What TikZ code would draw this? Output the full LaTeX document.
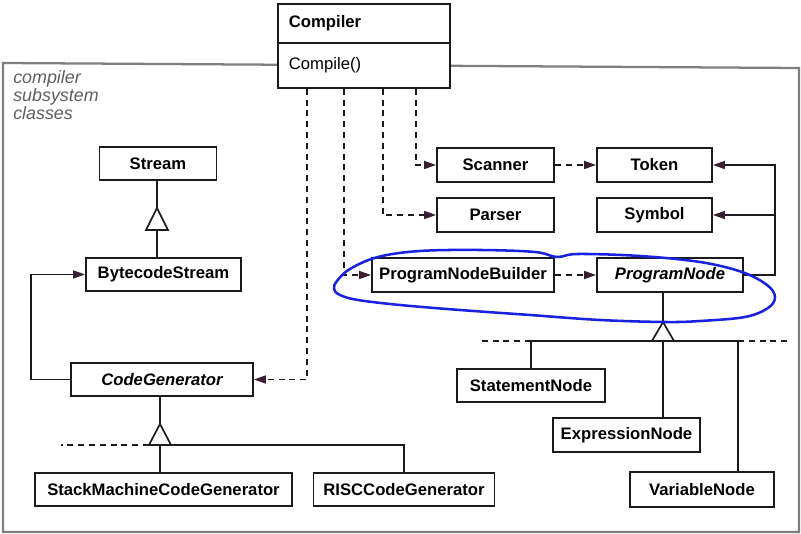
\documentclass[tikz,border=0pt]{standalone}
\usepackage{fontspec}
\setmainfont{Liberation Sans}
\usetikzlibrary{arrows.meta,calc}

\definecolor{inkline}{HTML}{1C1A1C}
\definecolor{tipcol}{HTML}{3A1E34}
\definecolor{framegray}{HTML}{7E7E7C}
\definecolor{labelgray}{HTML}{5E5E5E}
\definecolor{penblue}{HTML}{1A22E0}
\newcommand\umlfont{\fontsize{12.5pt}{14pt}\selectfont}

\tikzset{
  classbox/.style={draw=inkline, fill=white, line width=1.35pt, inner sep=0pt,
    font=\umlfont\bfseries},
  bw/.style={minimum width=#1*0.75pt},
  bh/.style={minimum height=#1*0.75pt},
  abstractcls/.style={font=\umlfont\bfseries\itshape},
  headtip/.style={-{Triangle[length=9pt,width=6pt,color=tipcol]}},
  dep/.style={draw=inkline, line width=1.25pt, dash pattern=on 4.5pt off 3.6pt, headtip},
  assoc/.style={draw=inkline, line width=1.25pt, line join=miter, headtip},
  inh/.style={draw=inkline, line width=1.25pt, line join=miter},
  dashline/.style={draw=inkline, line width=1.25pt, dash pattern=on 4.5pt off 3.6pt},
  gen/.style={draw=inkline, line width=1.25pt, fill=white, line join=miter},
}

\begin{document}
\begin{tikzpicture}[x=0.75pt,y=-0.75pt]
\fill[white] (0,0) rectangle (801,534);
\useasboundingbox (0,0) rectangle (801,534);

% subsystem frame
\draw[framegray, line width=1.7pt, line join=miter] (3,63) -- (799,68) -- (799,532) -- (3,532) -- cycle;
\node[anchor=north west, align=left, inner sep=0pt, text=labelgray,
      font=\fontsize{13.4pt}{12.4pt}\selectfont\itshape] (sublabel) at (13,70)
      {compiler\\subsystem\\classes};

% facade class
\node[classbox, bw=172, bh=39, anchor=north west, text width=112.5pt, align=left] (cname) at (277,3) {Compiler};
\node[classbox, bw=172, bh=45, anchor=north west, text width=112.5pt, align=left, font=\umlfont] (cops) at (277,42) {Compile()};

% subsystem classes
\node[classbox, bw=117, bh=33] (stream) at (158,163.5) {Stream};
\node[classbox, bw=155, bh=33] (bcs) at (163.5,274.5) {BytecodeStream};
\node[classbox, bw=182, bh=33, abstractcls] (codegen) at (162,379.5) {CodeGenerator};
\node[classbox, bw=257, bh=33] (smcg) at (163.5,489.5) {StackMachineCodeGenerator};
\node[classbox, bw=181, bh=33] (riscg) at (404,489.5) {RISCCodeGenerator};
\node[classbox, bw=117, bh=34] (scanner) at (495.5,165) {Scanner};
\node[classbox, bw=115, bh=34] (token) at (654.5,165) {Token};
\node[classbox, bw=117, bh=34] (parser) at (495.5,215) {Parser};
\node[classbox, bw=115, bh=34] (symbol) at (654.5,215) {Symbol};
\node[classbox, bw=182, bh=34] (pnb) at (463,275) {ProgramNodeBuilder};
\node[classbox, bw=146, bh=34, abstractcls] (pnode) at (670,275) {ProgramNode};
\node[classbox, bw=148, bh=33] (stmt) at (531,385.5) {StatementNode};
\node[classbox, bw=147, bh=34] (expr) at (626.5,435) {ExpressionNode};
\node[classbox, bw=144, bh=35] (var) at (702,489.5) {VariableNode};

% Stream hierarchy
\coordinate (sapex) at (157,208);
\draw[inh] (stream.south -| sapex) -- (bcs.north -| sapex);
\draw[gen] (sapex) -- ++(-11,22) -- ++(22,0) -- cycle;

% CodeGenerator hierarchy
\coordinate (capex) at (160,424);
\coordinate (cbar) at (160,445);
\coordinate (cdash) at (61,445);
\draw[inh] (codegen.south -| capex) -- (capex);
\draw[inh] (cbar) -- (smcg.north -| cbar);
\draw[inh] ($(cbar)+(11,0)$) -| (riscg.north);
\draw[dashline] ($(cbar)+(-11,0)$) -- (cdash);
\draw[gen] (capex) -- ++(-11,21) -- ++(22,0) -- cycle;

% ProgramNode hierarchy
\coordinate (papex) at (663,322);
\coordinate (pbar) at (663,341);
\coordinate (vtop) at (738,341);
\coordinate (pdashl) at (482,341);
\coordinate (pdashr) at (787,341);
\draw[inh] (pnode.south -| papex) -- (papex);
\draw[inh] (pbar) -- (expr.north -| pbar);
\draw[inh] ($(pbar)+(-11,0)$) -| (stmt.north);
\draw[inh] ($(pbar)+(11,0)$) -- (vtop) -- (var.north -| vtop);
\draw[dashline] (stmt.north |- pbar) -- (pdashl);
\draw[dashline] (vtop) -- (pdashr);
\draw[gen] (papex) -- ++(-11,19) -- ++(22,0) -- cycle;

% dependencies of the facade
\coordinate (d1) at (307,0);
\coordinate (d2) at (344,0);
\coordinate (d3) at (383,0);
\coordinate (d4) at (416,0);
\draw[dep] (cops.south -| d1) |- (codegen.east);
\draw[dep] (cops.south -| d2) |- (pnb.west);
\draw[dep] (cops.south -| d3) |- (parser.west);
\draw[dep] (cops.south -| d4) |- (scanner.west);
\draw[dep] (scanner.east) -- (token.west);
\draw[dep] (pnb.east) -- (pnode.west);

% associations
\coordinate (rx) at (775,0);
\draw[assoc] (codegen.west) -- ++(-39,0) |- (bcs.west);
\draw[assoc] (pnode.east) -| (token.east -| rx) -- (token.east);
\draw[assoc] (symbol.east -| rx) -- (symbol.east);

% hand-drawn loop round the builder and its product
\draw[penblue, line width=1.9pt] plot[smooth cycle, tension=0.6] coordinates {
  (337,281) (350,269) (378,257) (420,251) (480,250) (535,252) (557,257)
  (578,254) (640,256) (700,262) (742,272) (767,285) (775,297) (768,308)
  (745,317) (700,321) (665,322) (600,320) (530,315) (460,310) (400,305)
  (358,300) (340,295) (334,289)};
\end{tikzpicture}
\end{document}
